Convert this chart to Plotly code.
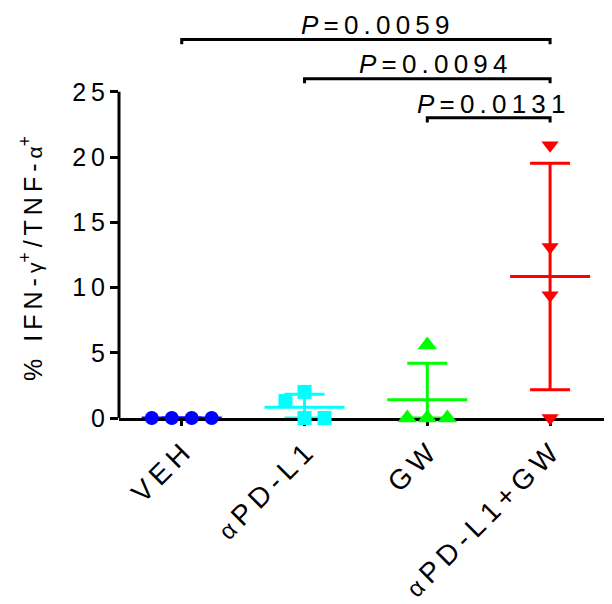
import numpy as np
import plotly.graph_objects as go

# ---------------- data ----------------
categories = ["VEH", "αPD-L1", "GW", "αPD-L1+GW"]
veh = [0.0, 0.0, 0.0, 0.0]
pdl1 = [1.3, 2.0, 0.0, 0.0]
gw = [0.0, 5.6, 0.0, 0.0]
combo = [20.9, 13.1, 9.4, 0.0]
series_values = [veh, pdl1, gw, combo]

p_labels = ["0.0059", "0.0094", "0.0131"]
p_pairs = [(0, 3), (1, 3), (2, 3)]
y_ticks = [0, 5, 10, 15, 20, 25]
y_title = "% IFN-γ⁺/TNF-α⁺"

# ---------------- layout / style ----------------
# horizontal point spread (category units) so equal values don't overlap
jitter = [
    [-0.244, -0.081, 0.081, 0.244],
    [-0.155, 0.0, 0.0, 0.163],
    [-0.163, 0.0, 0.0, 0.163],
    [0.0, 0.0, 0.0, 0.0],
]
colors = ["#0000ff", "#00ffff", "#00ff00", "#ff0000"]
symbols = ["circle", "square", "triangle-up", "triangle-down"]
msizes = [14, 14, 17, 15]
bracket_y = [29.0, 26.0, 23.0]
label_pos = [(1.574, 30.1), (2.047, 27.1), (2.523, 24.05)]

Y_MAX = 30.5
X_RANGE = [-0.511, 3.488]
FONT = "Liberation Sans, Arial, sans-serif"
SP = "\u2009"


def spaced(s):
    return SP.join(list(s))


fig = go.Figure()

for i, vals in enumerate(series_values):
    vals = np.array(vals, dtype=float)
    mean = vals.mean()
    sd = vals.std(ddof=1)
    # mean line
    fig.add_trace(go.Scatter(
        x=[i - 0.326, i + 0.326], y=[mean, mean], mode="lines",
        line=dict(color=colors[i], width=3), showlegend=False,
        hoverinfo="skip", cliponaxis=False))
    # SD error bar
    fig.add_trace(go.Scatter(
        x=[i], y=[mean], mode="markers",
        marker=dict(size=1, color="rgba(0,0,0,0)"),
        error_y=dict(type="data", symmetric=False, array=[sd],
                     arrayminus=[min(sd, mean)], color=colors[i],
                     thickness=3, width=20),
        showlegend=False, hoverinfo="skip", cliponaxis=False))
    # points
    fig.add_trace(go.Scatter(
        x=[i + j for j in jitter[i]], y=vals, mode="markers",
        marker=dict(symbol=symbols[i], size=msizes[i], color=colors[i],
                    line=dict(width=0)),
        showlegend=False, cliponaxis=False))

shapes = []
# y axis line only up to 25
shapes.append(dict(type="line", xref="paper", yref="paper", x0=0, x1=0,
                   y0=0, y1=25 / Y_MAX, line=dict(color="black", width=3)))
# significance brackets
for (a, b), yb in zip(p_pairs, bracket_y):
    shapes.append(dict(type="path", xref="x", yref="y",
                       path=f"M {a},{yb - 0.35} L {a},{yb} L {b},{yb} L {b},{yb - 0.35}",
                       line=dict(color="black", width=3)))

annotations = []
for lab, (xp, yp) in zip(p_labels, label_pos):
    annotations.append(dict(
        x=xp, y=yp, xref="x", yref="y", showarrow=False,
        text="<i>P</i>" + SP + "=" + SP + spaced(lab),
        font=dict(family=FONT, size=26, color="black"),
        xanchor="center", yanchor="middle"))

# y-axis title, centred on the 0-25 part of the axis
title_html = ("%" + SP + SP + " " + spaced("IFN-") + SP + "<span style='font-size:21px'>γ</span>"
              + "<sup>+</sup>" + SP + spaced("/TNF-") + SP
              + "<span style='font-size:21px'>α</span><sup>+</sup>")
annotations.append(dict(
    x=-0.179, y=12.2, xref="paper", yref="y", showarrow=False,
    text=title_html, textangle=-90,
    font=dict(family=FONT, size=25, color="black"),
    xanchor="center", yanchor="middle"))

tick_text = [
    spaced("VEH"),
    "<span style='font-size:24px'>α</span>" + SP + spaced("PD-L1"),
    spaced("GW"),
    "<span style='font-size:24px'>α</span>" + SP + spaced("PD-L1+GW"),
]

# the page body adds an 8px offset; the figure is sized to fill the rest
fig.update_layout(
    width=604, height=596,
    margin=dict(l=111, r=2, t=12, b=186, pad=0),
    plot_bgcolor="white", paper_bgcolor="white",
    font=dict(family=FONT, size=25, color="black"),
    shapes=shapes, annotations=annotations,
    xaxis=dict(range=X_RANGE, tickmode="array", tickvals=[0, 1, 2, 3],
               ticktext=tick_text, tickangle=-45, showgrid=False,
               zeroline=False, showline=True, linecolor="black",
               linewidth=3, ticks="outside", ticklen=5, tickwidth=3,
               tickcolor="black", layer="below traces",
               tickfont=dict(family=FONT, size=28)),
    yaxis=dict(range=[0, Y_MAX], tickmode="array", tickvals=y_ticks,
               ticktext=[spaced(str(v)) for v in y_ticks],
               showgrid=False, zeroline=False, showline=False,
               ticks="outside", ticklen=8, tickwidth=3, tickcolor="black",
               tickfont=dict(family=FONT, size=25)),
)

fig.write_html("out.html")
